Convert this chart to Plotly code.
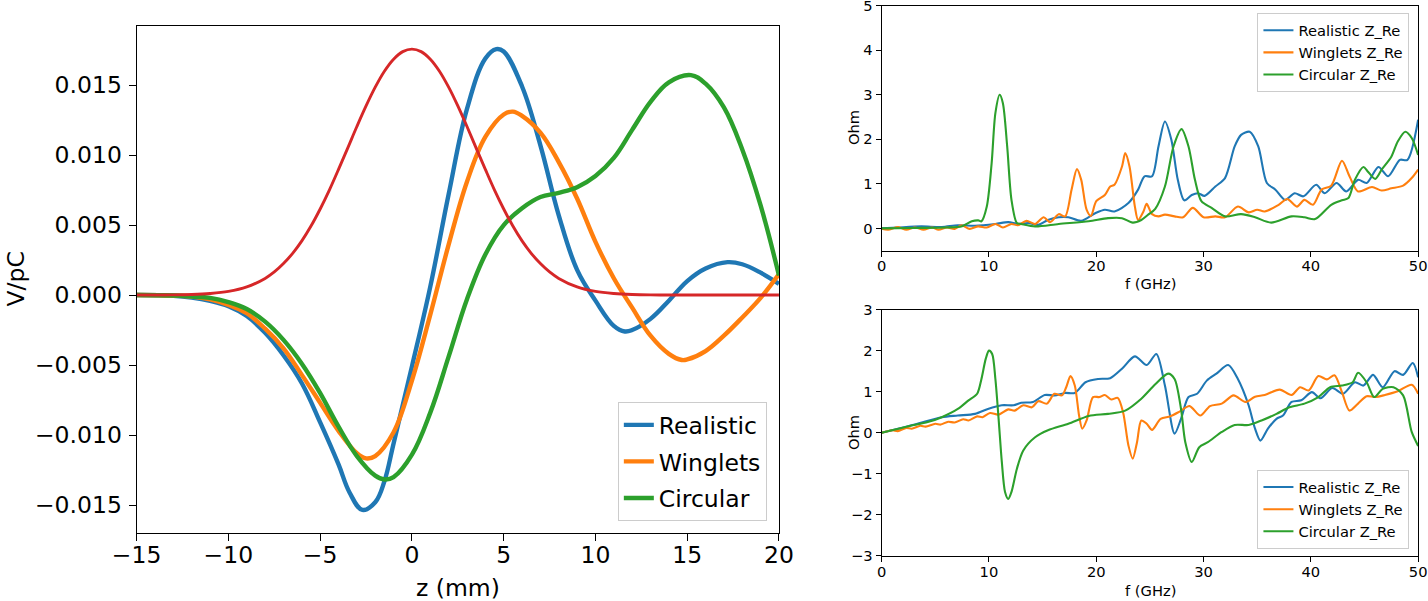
import plotly.graph_objects as go

# ---------------- Left panel: wake potentials (V/pC vs z in mm) ----------------
z_realistic = [-15, -13, -12, -11, -10, -9, -8, -7, -6, -5, -4, -3.4, -2.7, -2, -1.5, -1, 0, 1, 2, 3, 4, 4.6, 5, 6,
               7, 8, 9, 10, 11, 11.6, 12, 13, 14, 15, 16, 17.2, 18, 19, 20]
w_realistic = [0, -0.00005, -0.00018, -0.00042, -0.0008, -0.0015, -0.0027, -0.0043, -0.0063, -0.0091, -0.0121,
               -0.0141, -0.01535, -0.0148, -0.0133, -0.0106, -0.0051, 0.0006, 0.0072, 0.0133, 0.0169, 0.01757,
               0.0174, 0.0149, 0.0107, 0.0057, 0.0018, -0.0004, -0.0022, -0.0026, -0.0025, -0.0017, -0.0004,
               0.0010, 0.0019, 0.00235, 0.0022, 0.0016, 0.0008]

z_winglets = [-15, -13, -12, -11, -10, -9, -8, -7, -6, -5, -4, -3, -2.5, -2, -1, 0, 1, 2, 3, 4, 5, 5.5, 6, 7, 8,
              9, 10, 11, 12, 13, 14, 14.7, 15, 16, 17, 18, 19, 20]
w_winglets = [0, -0.00004, -0.0001, -0.0003, -0.0007, -0.0013, -0.0024, -0.0038, -0.0057, -0.0077, -0.0097,
              -0.0113, -0.01167, -0.0115, -0.0098, -0.0061, -0.0014, 0.0036, 0.0081, 0.0113, 0.0129, 0.0131,
              0.0128, 0.0116, 0.0095, 0.0069, 0.0038, 0.0012, -0.0009, -0.0029, -0.0042, -0.00464, -0.0046,
              -0.0040, -0.0029, -0.0016, -0.0002, 0.0015]

z_circular = [-15, -13, -12, -11, -10, -9, -8, -7, -6, -5, -4, -3, -2, -1.5, -1, 0, 1, 2, 3, 4, 5, 6, 7, 8, 9,
              10, 11, 12, 13, 14, 15.2, 16, 17, 18, 19, 20]
w_circular = [0, -0.00003, -0.0001, -0.0002, -0.0005, -0.0010, -0.0019, -0.0032, -0.0049, -0.0070, -0.0094,
              -0.0115, -0.0129, -0.01317, -0.0130, -0.0114, -0.0084, -0.0044, -0.0003, 0.0029, 0.0050, 0.0062,
              0.0070, 0.0073, 0.0077, 0.0085, 0.0098, 0.0118, 0.0138, 0.0152, 0.01571, 0.0151, 0.0134, 0.0104,
              0.0064, 0.0014]

z_bunch = [-15, -14, -13, -12, -11, -10, -9, -8, -7.5, -7, -6.5, -6, -5.5, -5, -4.5, -4, -3.5, -3, -2.5, -2,
           -1.5, -1, -0.5, 0, 0.5, 1, 1.5, 2, 2.5, 3, 3.5, 4, 4.5, 5, 5.5, 6, 6.5, 7, 7.5, 8, 9, 10, 11, 12,
           13, 14, 15, 16, 17, 18, 19, 20]
w_bunch = [0, 0, 0.00001, 0.00004, 0.00011, 0.00026, 0.00058, 0.00119, 0.00165, 0.00225, 0.00298, 0.00387,
           0.00493, 0.00615, 0.00750, 0.00898, 0.01050, 0.01204, 0.01351, 0.01485, 0.01599, 0.01685, 0.01739,
           0.01757, 0.01739, 0.01685, 0.01599, 0.01485, 0.01351, 0.01204, 0.01050, 0.00898, 0.00750, 0.00615,
           0.00493, 0.00387, 0.00298, 0.00225, 0.00165, 0.00119, 0.00058, 0.00026, 0.00011, 0.00004, 0.00001,
           0, 0, 0, 0, 0, 0, 0]

left_yticks = [-0.015, -0.010, -0.005, 0.000, 0.005, 0.010, 0.015]
left_xticks = [-15, -10, -5, 0, 5, 10, 15, 20]

# ---------------- Right top: real part of impedance ----------------
f_re_realistic = [0, 1.5, 3.7, 5.6, 7.1, 8.7, 10.6, 11.8, 12.7, 13.7, 14.6, 15.5, 16.5, 17.4, 18.6, 19.9, 20.8,
                  21.7, 23.0, 23.9, 24.5, 25.2, 25.8, 26.4, 27.0, 27.6, 28.2, 28.9, 29.5, 30.1, 31.1, 32.0, 32.9,
                  33.5, 34.3, 35.1, 35.9, 36.7, 37.6, 38.5, 39.3, 40.5, 41.3, 42.4, 43.3, 44.4, 45.2, 46.3, 47.2,
                  48.3, 49.0, 50.0]
z_re_realistic = [0, 0.02, 0.045, 0.03, 0.07, 0.06, 0.1, 0.14, 0.1, 0.12, 0.08, 0.19, 0.25, 0.25, 0.17, 0.34,
                  0.42, 0.38, 0.57, 0.87, 1.17, 1.17, 1.84, 2.4, 1.99, 1.09, 0.63, 0.75, 0.79, 0.73, 0.94, 1.13,
                  1.84, 2.1, 2.17, 1.84, 1.02, 0.87, 0.64, 0.79, 0.72, 0.98, 0.79, 1.02, 0.83, 1.09, 1.02, 1.38,
                  1.17, 1.54, 1.54, 2.44]

f_re_winglets = [0, 0.6, 1.55, 2.3, 3.1, 3.9, 4.7, 5.3, 6.1, 6.8, 7.45, 8.2, 9.0, 9.8, 10.6, 11.3, 12.1, 12.7,
                 13.5, 14.3, 15.1, 15.7, 16.5, 17.1, 17.7, 18.2, 18.6, 19.1, 19.5, 20.0, 20.8, 21.3, 21.7, 22.4,
                 22.7, 23.1, 23.6, 23.9, 24.4, 24.7, 25.2, 25.8, 26.4, 27.3, 28.1, 29.0, 30.0, 31.1, 32.0, 33.2,
                 34.2, 35.0, 35.7, 37.0, 37.8, 38.7, 39.4, 40.2, 41.0, 41.9, 42.9, 43.6, 44.4, 45.7, 46.6, 47.5,
                 48.6, 49.4, 50.0]
z_re_winglets = [-0.01, -0.03, 0.03, -0.03, 0.02, -0.03, 0.02, -0.03, 0.02, -0.01, 0.07, -0.01, 0.045, 0.02,
                 0.1, 0.02, 0.1, 0.07, 0.17, 0.1, 0.25, 0.14, 0.32, 0.27, 0.87, 1.33, 1.09, 0.42, 0.28, 0.61, 0.75,
                 0.94, 0.98, 1.39, 1.69, 1.39, 0.49, 0.19, 0.38, 0.55, 0.32, 0.27, 0.31, 0.27, 0.25, 0.46, 0.25,
                 0.27, 0.25, 0.49, 0.36, 0.42, 0.38, 0.53, 0.66, 0.49, 0.64, 0.53, 0.87, 0.96, 1.52, 1.17, 0.83,
                 0.93, 0.85, 0.9, 0.96, 1.13, 1.32]

f_re_circular = [0, 3, 6, 7.5, 8.4, 9.0, 9.3, 9.8, 10.25, 10.6, 11.0, 11.3, 11.7, 12.1, 12.6, 13.0, 14.3, 16.5,
                 19.3, 21.1, 22.4, 23.4, 24.2, 24.8, 25.5, 26.4, 27.2, 27.95, 28.6, 29.2, 29.8, 30.75, 32.0, 33.5,
                 34.8, 36.3, 38.2, 39.4, 40.4, 41.9, 42.9, 43.5, 44.1, 44.9, 45.3, 46.0, 46.6, 47.5, 48.1, 48.8,
                 49.4, 50.0]
z_re_circular = [0, 0.01, 0.02, 0.05, 0.16, 0.18, 0.16, 0.49, 1.46, 2.59, 3.0, 2.81, 1.84, 0.64, 0.12, 0.10,
                 0.045, 0.1, 0.16, 0.23, 0.23, 0.13, 0.19, 0.3, 0.44, 0.94, 1.84, 2.23, 1.84, 1.09, 0.61, 0.46,
                 0.27, 0.32, 0.25, 0.13, 0.27, 0.25, 0.21, 0.53, 0.63, 0.68, 1.09, 1.38, 1.28, 1.11, 1.32, 1.61,
                 1.95, 2.17, 2.03, 1.65]

# ---------------- Right bottom ----------------
f_b_realistic = [0, 3.1, 5.6, 7.1, 8.7, 9.9, 11.2, 12.3, 13.0, 14.1, 15.2, 16.1, 17.1, 18.0, 19.0, 20.2, 21.3,
                 22.4, 23.6, 24.7, 25.6, 26.4, 27.3, 27.9, 28.6, 29.4, 30.3, 31.2, 32.3, 33.2, 34.2, 34.8, 35.3,
                 36.0, 36.8, 37.4, 38.2, 39.1, 40.1, 40.9, 42.0, 43.0, 44.1, 44.9, 45.8, 46.7, 47.8, 48.6, 49.5,
                 50.0]
z_b_realistic = [0, 0.2, 0.38, 0.42, 0.46, 0.58, 0.67, 0.67, 0.73, 0.75, 0.92, 0.91, 0.97, 0.97, 1.23, 1.31,
                 1.33, 1.56, 1.86, 1.65, 1.92, 1.15, -0.02, 0.34, 0.87, 0.95, 1.27, 1.44, 1.65, 1.31, 0.67, 0.1,
                 -0.19, 0.1, 0.34, 0.42, 0.75, 0.79, 0.99, 0.84, 1.09, 0.95, 1.23, 1.15, 1.41, 1.11, 1.5, 1.41,
                 1.7, 1.35]

f_b_winglets = [0, 1.0, 1.5, 2.3, 2.8, 3.6, 4.1, 5.0, 5.5, 6.2, 6.8, 7.6, 8.1, 8.9, 9.4, 10.1, 10.9, 11.8, 12.4,
                13.2, 14.0, 14.6, 15.4, 16.1, 16.8, 17.2, 17.6, 18.0, 18.4, 18.7, 19.1, 19.7, 20.3, 20.8, 21.4,
                22.0, 22.5, 23.0, 23.4, 23.8, 24.2, 24.7, 25.2, 26.0, 26.9, 27.8, 28.7, 29.7, 30.6, 31.7, 32.8,
                33.9, 34.8, 35.7, 37.1, 38.2, 39.0, 39.8, 40.7, 41.5, 42.2, 42.9, 43.6, 44.4, 45.2, 46.0, 46.9,
                48.1, 49.4, 50.0]
z_b_winglets = [0, 0.06, 0.04, 0.12, 0.1, 0.17, 0.15, 0.22, 0.2, 0.27, 0.25, 0.33, 0.3, 0.4, 0.38, 0.48, 0.44,
                0.57, 0.54, 0.67, 0.62, 0.77, 0.71, 0.95, 0.91, 1.11, 1.38, 1.15, 0.42, 0.1, 0.3, 0.87, 0.87,
                0.92, 0.81, 0.85, 0.5, -0.31, -0.63, -0.23, 0.3, 0.22, 0.07, 0.34, 0.4, 0.52, 0.65, 0.42, 0.65,
                0.71, 0.91, 0.75, 0.88, 0.92, 1.05, 0.92, 1.11, 1.03, 1.38, 1.3, 1.4, 0.99, 0.54, 0.71, 0.89,
                0.87, 0.92, 1.01, 1.17, 0.95]

f_b_circular = [0, 2.5, 4.3, 5.6, 7.1, 8.1, 8.9, 9.3, 9.7, 10.0, 10.3, 10.6, 10.9, 11.2, 11.5, 11.8, 12.1, 12.6,
                13.2, 14.3, 15.5, 17.4, 19.3, 21.1, 22.7, 24.2, 25.5, 26.7, 27.3, 27.9, 28.3, 28.9, 29.6, 30.4,
                31.7, 32.9, 34.2, 35.4, 36.8, 38.0, 39.4, 40.7, 41.8, 42.9, 43.9, 44.4, 45.2, 45.9, 46.7, 47.7,
                48.6, 49.4, 50.0]
z_b_circular = [0, 0.16, 0.26, 0.38, 0.58, 0.79, 0.95, 1.31, 1.8, 2.0, 1.92, 1.31, 0.34, -0.71, -1.44, -1.61,
                -1.44, -0.88, -0.43, -0.11, 0.06, 0.22, 0.41, 0.46, 0.54, 0.83, 1.18, 1.44, 1.31, 0.58, -0.23,
                -0.71, -0.35, -0.23, 0.02, 0.19, 0.19, 0.3, 0.46, 0.62, 0.71, 0.87, 1.11, 1.15, 1.23, 1.46, 1.23,
                0.87, 1.07, 1.11, 0.91, 0.02, -0.32]

freq_ticks = [0, 10, 20, 30, 40, 50]
top_yticks = [0, 1, 2, 3, 4, 5]
bot_yticks = [-3, -2, -1, 0, 1, 2, 3]

BLUE, ORANGE, GREEN, RED = "#1f77b4", "#ff7f0e", "#2ca02c", "#d62728"
FONT = "DejaVu Sans"
BIG, SMALL = 23.5, 14.7

fig = go.Figure()

# left traces
for zz, ww, name, col in [(z_realistic, w_realistic, "Realistic", BLUE),
                          (z_winglets, w_winglets, "Winglets", ORANGE),
                          (z_circular, w_circular, "Circular", GREEN)]:
    fig.add_trace(go.Scatter(x=zz, y=ww, name=name, mode="lines", legendgroup="L" + name,
                             line=dict(color=col, width=4.4, shape="spline", smoothing=1.1),
                             xaxis="x", yaxis="y", legend="legend"))
fig.add_trace(go.Scatter(x=z_bunch, y=w_bunch, name="Bunch", mode="lines", showlegend=False,
                         line=dict(color=RED, width=2.9, shape="spline", smoothing=1.0),
                         xaxis="x", yaxis="y"))

# right top traces
for ff, vv, name, col in [(f_re_realistic, z_re_realistic, "Realistic Z_Re", BLUE),
                          (f_re_winglets, z_re_winglets, "Winglets Z_Re", ORANGE),
                          (f_re_circular, z_re_circular, "Circular Z_Re", GREEN)]:
    fig.add_trace(go.Scatter(x=ff, y=vv, name=name, mode="lines", legendgroup="T" + name,
                             line=dict(color=col, width=2.1, shape="spline", smoothing=0.8),
                             xaxis="x2", yaxis="y2", legend="legend2"))

# right bottom traces
for ff, vv, name, col in [(f_b_realistic, z_b_realistic, "Realistic Z_Re", BLUE),
                          (f_b_winglets, z_b_winglets, "Winglets Z_Re", ORANGE),
                          (f_b_circular, z_b_circular, "Circular Z_Re", GREEN)]:
    fig.add_trace(go.Scatter(x=ff, y=vv, name=name, mode="lines", legendgroup="B" + name,
                             line=dict(color=col, width=2.1, shape="spline", smoothing=0.8),
                             xaxis="x3", yaxis="y3", legend="legend3"))

def axis_style(size, ticklen):
    return dict(showgrid=False, zeroline=False, showline=True, mirror=True, linecolor="black",
                linewidth=1.2, ticks="outside", ticklen=ticklen, tickwidth=1.2, tickcolor="black",
                ticklabeloverflow="allow",
                tickfont=dict(family=FONT, size=size, color="black"), automargin=False)

fig.update_layout(
    width=1428, height=601, autosize=False,
    margin=dict(l=0, r=0, t=0, b=0),
    paper_bgcolor="white", plot_bgcolor="white",
    font=dict(family=FONT, color="black"),
    xaxis=dict(domain=[0.0957, 0.5455], range=[-15, 20], tickvals=left_xticks, anchor="y",
               ticklabelstandoff=-7, **axis_style(BIG, 7)),
    yaxis=dict(domain=[0.1126, 0.9572], range=[-0.01702, 0.01924], tickvals=left_yticks,
               tickformat=".3f", anchor="x", ticklabelstandoff=2, **axis_style(BIG, 7)),
    xaxis2=dict(domain=[0.6174, 0.9931], range=[0, 50], tickvals=freq_ticks, anchor="y2",
                ticklabelstandoff=-3, **axis_style(SMALL, 5)),
    yaxis2=dict(domain=[0.5829, 0.9905], range=[-0.5, 5], tickvals=top_yticks, anchor="x2",
                ticklabelstandoff=0, **axis_style(SMALL, 5)),
    xaxis3=dict(domain=[0.6174, 0.9931], range=[0, 50], tickvals=freq_ticks, anchor="y3",
                ticklabelstandoff=-3, **axis_style(SMALL, 5)),
    yaxis3=dict(domain=[0.0749, 0.4849], range=[-3, 3], tickvals=bot_yticks, anchor="x3",
                ticklabelstandoff=0, **axis_style(SMALL, 5)),
    legend=dict(x=0.537, y=0.133, xanchor="right", yanchor="bottom", tracegroupgap=3,
                font=dict(family=FONT, size=BIG, color="black"),
                bgcolor="rgba(255,255,255,0.8)", bordercolor="#cccccc", borderwidth=1),
    legend2=dict(x=0.987, y=0.978, xanchor="right", yanchor="top", tracegroupgap=0,
                 font=dict(family=FONT, size=SMALL, color="black"),
                 bgcolor="rgba(255,255,255,0.8)", bordercolor="#cccccc", borderwidth=1),
    legend3=dict(x=0.987, y=0.0865, xanchor="right", yanchor="bottom", tracegroupgap=0,
                 font=dict(family=FONT, size=SMALL, color="black"),
                 bgcolor="rgba(255,255,255,0.8)", bordercolor="#cccccc", borderwidth=1),
    annotations=[
        dict(text="V/pC", x=15 / 1428, y=1 - 279.5 / 601, xref="paper", yref="paper", textangle=-90,
             showarrow=False, xanchor="center", yanchor="middle", font=dict(family=FONT, size=BIG)),
        dict(text="z (mm)", x=457.8 / 1428, y=1 - 588 / 601, xref="paper", yref="paper",
             showarrow=False, xanchor="center", yanchor="middle", font=dict(family=FONT, size=BIG)),
        dict(text="Ohm", x=853 / 1428, y=1 - 128 / 601, xref="paper", yref="paper", textangle=-90,
             showarrow=False, xanchor="center", yanchor="middle", font=dict(family=FONT, size=SMALL)),
        dict(text="f (GHz)", x=1150 / 1428, y=1 - 283 / 601, xref="paper", yref="paper",
             showarrow=False, xanchor="center", yanchor="middle", font=dict(family=FONT, size=SMALL)),
        dict(text="Ohm", x=853 / 1428, y=1 - 433 / 601, xref="paper", yref="paper", textangle=-90,
             showarrow=False, xanchor="center", yanchor="middle", font=dict(family=FONT, size=SMALL)),
        dict(text="f (GHz)", x=1150 / 1428, y=1 - 590 / 601, xref="paper", yref="paper",
             showarrow=False, xanchor="center", yanchor="middle", font=dict(family=FONT, size=SMALL)),
    ],
)

# remove the default 8px page margin so the 1428x601 figure fills the window exactly
fig.write_html("out.html", config={"displayModeBar": False},
               post_script="document.body.style.margin='0px';")
